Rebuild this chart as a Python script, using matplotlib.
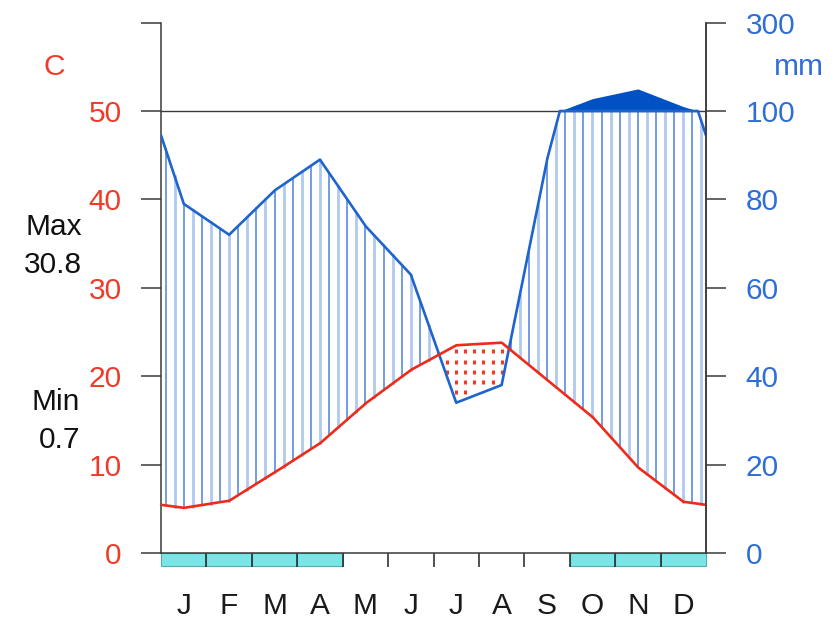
import numpy as np
import matplotlib
matplotlib.use("Agg")
import matplotlib.pyplot as plt
from matplotlib.patches import Rectangle

# ---- data ----
months = ["J", "F", "M", "A", "M", "J", "J", "A", "S", "O", "N", "D"]
temp = [5.1, 5.9, 9.1, 12.4, 16.9, 20.7, 23.5, 23.8, 19.6, 15.4, 9.7, 5.8]
prec = [79, 72, 82, 89, 74, 63, 34, 38, 89, 128, 150, 110]
frost = [1, 1, 1, 1, 0, 0, 0, 0, 0, 1, 1, 1]
abs_max = "30.8"
abs_min = "0.7"
left_ticks = [0, 10, 20, 30, 40, 50]
right_labels = ["0", "20", "40", "60", "80", "100", "300"]

RED = "#f03a2a"
BLUE_TXT = "#2e6ed6"
BLUE = "#1f64cc"
DARKBLUE = "#0052c4"
CYAN = "#78e6e6"
AX = "#3a3a3a"
FS = 21.5

plt.rcParams["font.family"] = ["Liberation Sans", "DejaVu Sans"]
W, H = 838, 623
fig = plt.figure(figsize=(W / 100, H / 100), dpi=100)
ax = fig.add_axes([161 / W, (H - 553) / H, 545 / W, (553 - 22.6) / H])
ax.set_xlim(0, 12)
ax.set_ylim(0, 60)

# extended series (wrap-around endpoints)
xm = np.arange(12) + 0.5
xe = np.concatenate([[0], xm, [12]])
t_e = np.concatenate([[(temp[0] + temp[-1]) / 2], temp, [(temp[0] + temp[-1]) / 2]])
p_e = np.concatenate([[(prec[0] + prec[-1]) / 2], prec, [(prec[0] + prec[-1]) / 2]])

xf = np.union1d(np.linspace(0, 12, 4801), xe)
tf = np.interp(xf, xe, t_e)
pf = np.interp(xf, xe, p_e)
low = np.minimum(pf, 100) / 2.0
up = 50 + np.maximum(pf - 100, 0) / 20.0

# humid hatching (vertical lines)
xs = np.arange(0.1, 12, 0.2)
ts = np.interp(xs, xe, t_e)
ps = np.interp(xs, xe, p_e)
ls = np.minimum(ps, 100) / 2.0
for i, (x, a, b) in enumerate(zip(xs, ts, ls)):
    if b > a:
        if i % 2 == 0:
            ax.plot([x, x], [a, b], color="#4c82dc", lw=1.1, zorder=2)
        else:
            ax.plot([x, x], [a, b], color="#b0c9f0", lw=2.0, zorder=2)

# arid dots
rows = np.arange(0.95, 60, 1.15)
dx, dy = [], []
for x, a, b in zip(xs, ts, ls):
    for r in rows:
        if b + 0.5 < r < a - 0.4:
            dx.append(x)
            dy.append(r)
ax.plot(dx, dy, ls="none", marker="|", ms=3.2, mew=2.2, color=RED, zorder=3)

# very wet part (compressed scale)
ax.fill_between(xf, 50, up, where=pf >= 100, color=DARKBLUE, lw=0, zorder=3)

# reference line at 50 C / 100 mm
ax.axhline(50, color=AX, lw=1.0, zorder=4)

# curves
ax.plot(xf, low, color=BLUE, lw=1.9, zorder=5, solid_joinstyle="round")
ax.plot(xf, tf, color="#ee2a1a", lw=1.9, zorder=6, solid_joinstyle="round")

# frost bar
for i, f in enumerate(frost):
    if f:
        ax.add_patch(Rectangle((i, -1.5), 1, 1.5, facecolor=CYAN, edgecolor="#5aabab",
                               lw=0.8, clip_on=False, zorder=1))

# spines and ticks
ax.spines["top"].set_visible(False)
for s in ["left", "right", "bottom"]:
    ax.spines[s].set_color(AX)
    ax.spines[s].set_linewidth(1.1)

ax.set_yticks(left_ticks + [60])
ax.set_yticklabels([str(v) for v in left_ticks] + [""])
ax.tick_params(axis="y", direction="out", length=14.4, width=1.1, color=AX,
               labelcolor=RED, labelsize=FS, pad=14)

ax.set_xticks(np.arange(1, 12))
ax.set_xticklabels([])
ax.tick_params(axis="x", which="major", direction="out", length=10, width=1.1, color="#222")
ax.set_xticks(xm, minor=True)
ax.set_xticklabels(months, minor=True)
ax.tick_params(axis="x", which="minor", length=0, pad=28, labelsize=FS, labelcolor="#1a1a1a")

ax2 = ax.twinx()
ax2.set_ylim(0, 60)
ax2.set_yticks([0, 10, 20, 30, 40, 50, 60])
ax2.set_yticklabels(right_labels)
ax2.tick_params(axis="y", direction="out", length=14.4, width=1.1, color=AX,
                labelcolor=BLUE_TXT, labelsize=FS, pad=14)
for s in ["top", "left", "bottom"]:
    ax2.spines[s].set_visible(False)
ax2.spines["right"].set_color(AX)
ax2.spines["right"].set_linewidth(1.1)

# labels
def ftxt(x, y, s, **kw):
    fig.text(x / W, 1 - y / H, s, fontsize=FS, va="center", **kw)

ftxt(54, 67, "C", color=RED, ha="center")
ftxt(824, 67, "mm", color=BLUE_TXT, ha="right")
ftxt(82, 227, "Max", color="#111", ha="right")
ftxt(82, 265, abs_max, color="#111", ha="right")
ftxt(80, 402, "Min", color="#111", ha="right")
ftxt(80, 440, abs_min, color="#111", ha="right")

fig.savefig("out.png", dpi=100)
